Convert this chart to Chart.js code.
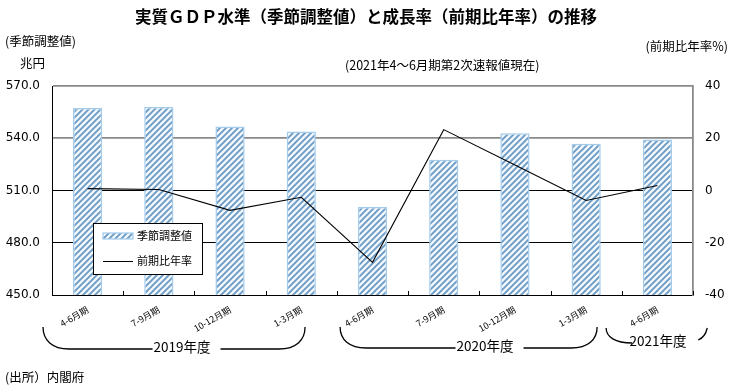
<!DOCTYPE html>
<html><head><meta charset="utf-8">
<script src="https://cdn.jsdelivr.net/npm/chart.js@4"></script>
<style>
html,body{margin:0;padding:0;background:#fff;}
#wrap{position:relative;width:732px;height:391px;overflow:hidden;font-family:"Noto Sans CJK JP","Noto Sans",sans-serif;color:#000;}
#c{position:absolute;left:0;top:0;}
.t{position:absolute;white-space:nowrap;line-height:1;}
</style></head><body>
<div id="wrap">
<canvas id="c" width="732" height="391"></canvas>
<div class="t" style="left:0;width:732px;text-align:center;top:8px;font-size:16.5px;font-weight:bold;">実質ＧＤＰ水準（季節調整値）と成長率（前期比年率）の推移</div>
<div class="t" style="left:5px;top:35px;font-size:12.5px;">(季節調整値)</div>
<div class="t" style="left:20px;top:57px;font-size:12.5px;">兆円</div>
<div class="t" style="left:345px;top:59px;font-size:12.5px;">(2021年4～6月期第2次速報値現在)</div>
<div class="t" style="right:4px;top:40px;font-size:12.5px;">(前期比年率%)</div>
<div class="t" style="left:5px;top:371px;font-size:12.5px;">(出所）内閣府</div>
</div>
<script>
// ---- data ----
const categories = ['4-6月期','7-9月期','10-12月期','1-3月期','4-6月期','7-9月期','10-12月期','1-3月期','4-6月期'];
const gdpLevel = [557.3, 557.9, 546.8, 543.9, 500.5, 527.6, 542.8, 536.8, 539.3];
const growthRate = [0.7, 0.4, -7.6, -2.6, -27.5, 23.3, 9.8, -3.8, 1.9];
const leftTicks = [450, 480, 510, 540, 570];
const rightTicks = [-40, -20, 0, 20, 40];
const fiscalYears = ['2019年度', '2020年度', '2021年度'];
const seriesNames = ['季節調整値', '前期比年率'];

// ---- layout (not data) ----
const bracketLayout = [
  {from: -0.626, to: 3.053, text: 1.326, y: 349, top: 327},
  {from: 3.545, to: 7.154, text: 5.58, y: 348, top: 327},
  {from: 7.28, to: 8.70, text: 8.01, y: 343, top: 328, noRightLine: true}
];

const canvas = document.getElementById('c');
const ctx = canvas.getContext('2d');

function makePattern(c){
  const p = document.createElement('canvas'); p.width = 6; p.height = 6;
  const g = p.getContext('2d');
  g.fillStyle = '#f1f8fd'; g.fillRect(0,0,6,6);
  g.strokeStyle = '#6d9ac2'; g.lineWidth = 1.9;
  g.beginPath();
  for (let k = -1; k <= 1; k++){ g.moveTo(k*6 - 1, 7); g.lineTo(k*6 + 7, -1); }
  g.stroke();
  return c.createPattern(p, 'repeat');
}
const stripe = makePattern(ctx);
const barBorder = '#a3cbec';
const numFont = {family: '"DejaVu Sans", sans-serif', size: 12};

const extras = {
  id: 'extras',
  afterDatasetsDraw(chart){
    const c = chart.ctx, xs = chart.scales.x, area = chart.chartArea;
    c.save();
    // inward tick marks on category axis
    c.strokeStyle = '#000'; c.lineWidth = 1;
    c.beginPath();
    for (let i = 0; i <= categories.length; i++){
      const x = Math.round(xs.getPixelForValue(i - 0.5)) + 0.5;
      c.moveTo(x, area.bottom); c.lineTo(x, area.bottom - 4);
    }
    c.stroke();
    // legend
    const lx = 93.5, ly = 223.5, lw = 109, lh = 51;
    c.fillStyle = '#fff'; c.fillRect(lx, ly, lw, lh);
    c.strokeStyle = '#000'; c.lineWidth = 1; c.strokeRect(lx, ly, lw, lh);
    c.fillStyle = stripe; c.fillRect(103, 233, 30, 6);
    c.strokeStyle = barBorder; c.lineWidth = 1.2; c.strokeRect(103, 233, 30, 6);
    c.strokeStyle = '#000'; c.lineWidth = 1;
    c.beginPath(); c.moveTo(103, 261.5); c.lineTo(133, 261.5); c.stroke();
    c.fillStyle = '#000'; c.font = '11px "Noto Sans CJK JP"';
    c.textBaseline = 'middle'; c.textAlign = 'left';
    c.fillText(seriesNames[0], 137, 236);
    c.fillText(seriesNames[1], 137, 261);
    // fiscal-year brackets
    c.font = '13.5px "Noto Sans CJK JP"';
    c.lineWidth = 1.3; c.strokeStyle = '#000';
    bracketLayout.forEach((b, i) => {
      const x0 = xs.getPixelForValue(b.from), x1 = xs.getPixelForValue(b.to), tx = xs.getPixelForValue(b.text);
      const label = fiscalYears[i];
      const tw = c.measureText(label).width;
      const tl = tx - tw/2, tr = tx + tw/2;
      const r = 26, h = b.y - b.top;
      c.beginPath();
      c.moveTo(x0, b.top);
      c.bezierCurveTo(x0, b.top + h*0.6, x0 + r*0.35, b.y, x0 + r, b.y);
      c.lineTo(tl - 1, b.y);
      c.stroke();
      c.beginPath();
      if (b.noRightLine){
        c.moveTo(x1 - 9, b.y - 3);
        c.quadraticCurveTo(x1 - 2, b.y - 6, x1, b.top);
      } else {
        c.moveTo(tr + 10, b.y);
        c.lineTo(x1 - r, b.y);
        c.bezierCurveTo(x1 - r*0.35, b.y, x1, b.top + h*0.6, x1, b.top);
      }
      c.stroke();
      c.textAlign = 'center';
      c.fillText(label, tx, b.y - 2);
    });
    c.restore();
  }
};

new Chart(ctx, {
  data: {
    labels: categories,
    datasets: [
      {type: 'line', label: seriesNames[1], data: growthRate, yAxisID: 'y1', borderColor: '#000', borderWidth: 1.1, pointRadius: 0, tension: 0, fill: false, order: 0},
      {type: 'bar', label: seriesNames[0], data: gdpLevel, yAxisID: 'y', backgroundColor: stripe, borderColor: barBorder, borderWidth: 1.5, barPercentage: 0.41, categoryPercentage: 1, order: 1}
    ]
  },
  options: {
    responsive: false, animation: false,
    layout: {padding: {top: 86, bottom: 0, left: 0, right: 0}},
    plugins: {legend: {display: false}, tooltip: {enabled: false}, title: {display: false}},
    scales: {
      x: {
        offset: true,
        grid: {display: false},
        border: {display: true, color: '#000', width: 1},
        ticks: {color: '#000', font: {family: '"Noto Sans CJK JP"', size: 9}, minRotation: 30, maxRotation: 30, padding: 1, autoSkip: false},
        afterFit: s => { s.height = 96; }
      },
      y: {
        position: 'left', min: leftTicks[0], max: leftTicks[leftTicks.length-1],
        afterBuildTicks: s => { s.ticks = leftTicks.map(v => ({value: v})); },
        ticks: {color: '#000', font: numFont, padding: 12, callback: v => Number(v).toFixed(1)},
        grid: {drawTicks: false,
          color: c => (c.tick && (c.tick.value === 540 || c.tick.value === 570)) ? '#8a8a8a' : '#000',
          lineWidth: c => (c.tick && (c.tick.value === 540 || c.tick.value === 570)) ? 1.8 : 1},
        border: {display: true, color: '#000', width: 1},
        afterFit: s => { s.width = 52; }
      },
      y1: {
        position: 'right', min: rightTicks[0], max: rightTicks[rightTicks.length-1],
        afterBuildTicks: s => { s.ticks = rightTicks.map(v => ({value: v})); },
        ticks: {color: '#000', font: numFont, padding: 12},
        grid: {drawOnChartArea: false, drawTicks: false},
        border: {display: true, color: '#8a8a8a', width: 1.8},
        afterFit: s => { s.width = 39; }
      }
    }
  },
  plugins: [extras]
});
</script>
</body></html>
